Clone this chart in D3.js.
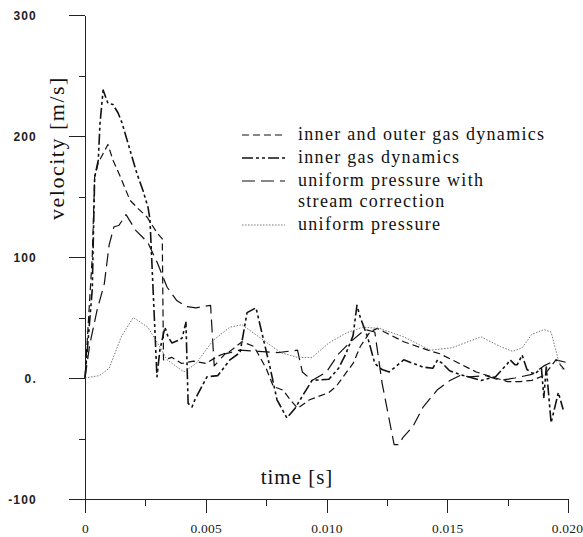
<!DOCTYPE html>
<html>
<head>
<meta charset="utf-8">
<script src="https://cdn.jsdelivr.net/npm/d3@7"></script>
<style>
  body { margin: 0; background: #fff; }
  .axis path, .axis line { stroke: #222; stroke-width: 1; shape-rendering: crispEdges; }
  .ylab text { font-family: "Liberation Sans", Arial, sans-serif; font-weight: bold; font-size: 12px; letter-spacing: 1.2px; fill: #222; }
  .xlab text { font-family: "Liberation Serif", "DejaVu Serif", serif; font-size: 13.5px; letter-spacing: 0.2px; fill: #222; }
  .title { font-family: "Liberation Serif", "DejaVu Serif", serif; fill: #111; }
  .series { fill: none; stroke-linejoin: round; }
</style>
</head>
<body>
<div id="chart"></div>
<script>
// tick labels as printed on the figure
var yTicks = [-100, 0, 100, 200, 300],
    yTickLabels = ['-100', '0.', '100', '200', '300'],
    xTicks = [0, 0.005, 0.010, 0.015, 0.020],
    xTickLabels = ['0', '0.005', '0.010', '0.015', '0.020'];

// inner and outer gas dynamics
var tInnerOuter = [0, 0.0003, 0.0004, 0.00055, 0.00095, 0.00116, 0.00145, 0.00186, 0.0022, 0.00257, 0.00298, 0.0032,
    0.00325, 0.0036, 0.004, 0.0045, 0.005, 0.0055, 0.006, 0.0065, 0.007, 0.0075, 0.0078, 0.0082, 0.0085, 0.0088,
    0.0093, 0.0101, 0.0104, 0.0108, 0.0111, 0.0114, 0.0118, 0.0121, 0.0126, 0.0132, 0.0142, 0.0147, 0.0155,
    0.0162, 0.017, 0.0175, 0.018, 0.0185, 0.019, 0.0195, 0.0199];
var vInnerOuter = [0, 100, 166, 178, 193, 180, 167, 147, 140, 133, 120, 115,
    15, 17, 12, 14, 12, 18, 22, 30, 26, 8, -7, -10, -18, -25,
    -18, -12, -7, 4, 12, 26, 38, 41, 36, 30, 23, 20, 12,
    5, 0, -3, -3, -2, 2, 15, 6];

// inner gas dynamics
var tInner = [0, 0.0003, 0.0004, 0.00055, 0.00062, 0.00075, 0.00095, 0.00116, 0.00137, 0.00153, 0.00178, 0.00215,
    0.0024, 0.00261, 0.00269, 0.00298, 0.0031, 0.00331, 0.00344, 0.0036, 0.00385, 0.00402, 0.00418, 0.00427,
    0.00443, 0.00455, 0.00484, 0.00505, 0.0055, 0.006, 0.00642, 0.00671, 0.00708, 0.00766, 0.00795, 0.00836,
    0.0087, 0.009, 0.0094, 0.0101, 0.0105, 0.0108, 0.0111, 0.01126, 0.0114, 0.0117, 0.012, 0.0123, 0.0126,
    0.0132, 0.014, 0.0144, 0.0146, 0.0148, 0.0151, 0.0155, 0.0164, 0.017, 0.0175, 0.0176, 0.0178, 0.0179,
    0.0181, 0.0183, 0.0186, 0.0189, 0.019, 0.0191, 0.0193, 0.0196, 0.0198];
var vInner = [0, 73, 166, 180, 210, 238, 227, 226, 219, 211, 194, 169,
    155, 141, 131, 1, 23, 42, 34, 29, 31, 33, 46, -21,
    -24, -18, -7, 1, 2, 15, 21, 54, 58, 9, -18, -33,
    -25, -15, -2, -1, 8, 20, 35, 60, 50, 34, 12, 7, 5,
    15, 9, 8, 15, 12, 6, 3, -2, 1, 12, 15, 11, 11,
    19, 7, 3, 8, -16, 9, -37, -12, -26];

// uniform pressure with stream correction
var tStream = [0, 0.0002, 0.0005, 0.0008, 0.001, 0.0012, 0.0014, 0.0017, 0.0021, 0.0026, 0.003, 0.0034, 0.0038,
    0.0042, 0.0046, 0.0052, 0.00535, 0.0058, 0.0064, 0.0072, 0.008, 0.0088, 0.009, 0.0094, 0.01, 0.0105, 0.011,
    0.0116, 0.012, 0.0123, 0.0128, 0.013, 0.01317, 0.01358, 0.014, 0.01458, 0.01511, 0.01553, 0.01594, 0.0166,
    0.0172, 0.0178, 0.0185, 0.019, 0.0195, 0.0199];
var vStream = [0, 28, 56, 78, 110, 125, 126, 135, 122, 112, 95, 75, 64,
    59, 58, 60, 10, 20, 23, 22, 21, 23, 5, -2, 5, 20, 30,
    40, 38, -4, -55, -55, -49, -40, -24, -10, -2, 2, 1, 2,
    -2, 0, 3, 10, 15, 13];

// uniform pressure
var tUniform = [0, 0.0006, 0.001, 0.0015, 0.002, 0.0026, 0.003, 0.0034, 0.0041, 0.0046, 0.0053, 0.006, 0.0065,
    0.0072, 0.0081, 0.0088, 0.0094, 0.0101, 0.0108, 0.0115, 0.0122, 0.0132, 0.0143, 0.0152, 0.0164, 0.0172,
    0.0177, 0.0181, 0.0185, 0.019, 0.0193, 0.0196, 0.0198];
var vUniform = [0, 2, 8, 34, 50, 42, 29, 15, 5, 12, 31, 42, 44,
    34, 21, 17, 17, 29, 37, 42, 41, 34, 23, 25, 34, 26,
    22, 25, 36, 40, 38, 15, 6];

var seriesNames = ['inner and outer gas dynamics', 'inner gas dynamics',
    'uniform pressure with', 'uniform pressure'];

var width = 583, height = 537,
    serif = '"Liberation Serif", "DejaVu Serif", serif';

var svg = d3.select('#chart').append('svg')
    .attr('width', width)
    .attr('height', height);

var x = d3.scaleLinear().domain([0, 0.020]).range([85, 568]);
var y = d3.scaleLinear().domain([-100, 300]).range([499, 15]);

// minor ticks first, then major ones on top
svg.append('g')
    .attr('class', 'axis')
    .attr('transform', 'translate(85,0)')
    .call(d3.axisLeft(y).tickValues([-50, 50, 150, 250]).tickSize(6).tickSizeOuter(0).tickFormat(''));
svg.append('g')
    .attr('class', 'axis ylab')
    .attr('transform', 'translate(85,0)')
    .call(d3.axisLeft(y).tickValues(yTicks).tickSize(16).tickSizeOuter(0)
        .tickFormat(function(d, i){ return yTickLabels[i]; }))
    .call(function(g){ g.selectAll('text').attr('x', -48).attr('dy', '0.35em'); });

svg.append('g')
    .attr('class', 'axis')
    .attr('transform', 'translate(0,499)')
    .call(d3.axisBottom(x).tickValues([0.0025, 0.0075, 0.0125, 0.0175]).tickSize(7).tickSizeOuter(0).tickFormat(''));
svg.append('g')
    .attr('class', 'axis xlab')
    .attr('transform', 'translate(0,499)')
    .call(d3.axisBottom(x).tickValues(xTicks).tickSize(14).tickSizeOuter(0)
        .tickFormat(function(d, i){ return xTickLabels[i]; }))
    .call(function(g){
        g.selectAll('text').attr('y', 24).attr('font-family', serif);
        // last label sits against the right edge
        g.selectAll('.tick:last-of-type text').attr('dx', -1);
    });

// axis titles
svg.append('text')
    .attr('class', 'title')
    .attr('font-family', serif)
    .attr('transform', 'translate(64,148) rotate(-90)')
    .attr('text-anchor', 'middle')
    .style('font-size', '22px')
    .style('letter-spacing', '1.5px')
    .text('velocity [m/s]');
svg.append('text')
    .attr('class', 'title')
    .attr('font-family', serif)
    .attr('x', 297)
    .attr('y', 484)
    .attr('text-anchor', 'middle')
    .style('font-size', '21px')
    .style('letter-spacing', '1px')
    .text('time [s]');

// line styles
var styles = [
    { dash: '7,4', w: 1.2, c: '#111' },
    { dash: '11,3,3,3,3,3', w: 1.6, c: '#111' },
    { dash: '13,6', w: 1.2, c: '#111' },
    { dash: '1.5,1.5', w: 0.9, c: '#666' }
];

var series = [
    d3.zip(tInnerOuter, vInnerOuter),
    d3.zip(tInner, vInner),
    d3.zip(tStream, vStream),
    d3.zip(tUniform, vUniform)
];

var line = d3.line()
    .x(function(d){ return x(d[0]); })
    .y(function(d){ return y(d[1]); });

svg.selectAll('path.series')
    .data(series)
    .enter().append('path')
    .attr('class', 'series')
    .attr('d', line)
    .attr('stroke', function(d, i){ return styles[i].c; })
    .attr('stroke-width', function(d, i){ return styles[i].w; })
    .attr('stroke-dasharray', function(d, i){ return styles[i].dash; });

// legend
var legendY = [135, 158, 181, 225];
var legend = svg.append('g');
legend.selectAll('line')
    .data(styles)
    .enter().append('line')
    .attr('x1', 242).attr('x2', 285)
    .attr('y1', function(d, i){ return legendY[i]; })
    .attr('y2', function(d, i){ return legendY[i]; })
    .attr('stroke', function(d){ return d.c; })
    .attr('stroke-width', function(d){ return d.w; })
    .attr('stroke-dasharray', function(d){ return d.dash; });
legend.selectAll('text')
    .data(seriesNames)
    .enter().append('text')
    .attr('class', 'title')
    .attr('font-family', serif)
    .attr('x', 298)
    .attr('y', function(d, i){ return legendY[i] + 5; })
    .style('font-size', '18px')
    .style('letter-spacing', '1.3px')
    .text(function(d){ return d; });
legend.append('text')
    .attr('class', 'title')
    .attr('font-family', serif)
    .attr('x', 298)
    .attr('y', 207)
    .style('font-size', '18px')
    .style('letter-spacing', '1.3px')
    .text('stream correction');
</script>
</body>
</html>
